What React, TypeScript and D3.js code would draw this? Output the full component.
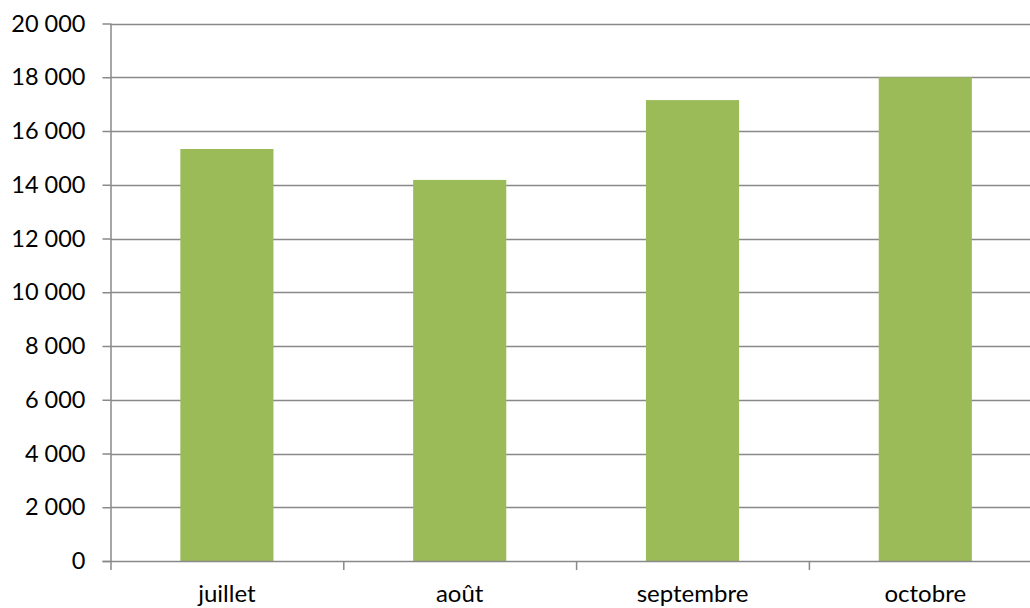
// @ts-nocheck
import React, { useEffect, useRef } from 'react'
import * as d3 from 'd3'

const months = ['juillet', 'août', 'septembre', 'octobre']
const values = [15330, 14180, 17150, 18000]
const yTicks = [0, 2000, 4000, 6000, 8000, 10000, 12000, 14000, 16000, 18000, 20000]

const fmt = (v: number) => d3.format(',')(v).replace(/,/g, ' ')

export default function App() {
    const ref = useRef<SVGSVGElement>(null)

    useEffect(() => {
        const width = 1030,
            height = 608
        const left = 110.5, right = 1041.7, top = 23.5, bottom = 561

        const x = d3.scaleBand(months, [left, right]).paddingInner(0.6).paddingOuter(0.3)
        const y = d3.scaleLinear([0, 20000], [bottom, top])

        const svg = d3.select(ref.current)
            .attr('width', width)
            .attr('height', height)
        svg.selectAll('*').remove()

        const font = 'Lato, "Open Sans", sans-serif'

        // gridlines
        svg.append('g')
            .selectAll('line')
            .data(yTicks.slice(1))
            .join('line')
            .attr('x1', left)
            .attr('x2', right)
            .attr('y1', d => Math.round(y(d)) + 0.5)
            .attr('y2', d => Math.round(y(d)) + 0.5)
            .attr('stroke', '#898989')
            .attr('stroke-width', 1.5)

        // bars
        svg.append('g')
            .selectAll('rect')
            .data(values)
            .join('rect')
            .attr('x', (d, i) => x(months[i]))
            .attr('width', x.bandwidth())
            .attr('y', d => y(d))
            .attr('height', d => bottom - y(d))
            .attr('fill', '#9bbb59')

        // y axis
        svg.append('g')
            .attr('transform', `translate(${left}, 0)`)
            .call(d3.axisLeft(y).tickValues(yTicks).tickFormat(fmt).tickSize(8).tickPadding(17))
            .call(g => g.select('.domain').attr('d', `M0.5,${top}V${bottom}`))
            .call(g => g.selectAll('line, path').attr('stroke', '#898989').attr('stroke-width', 1.5))
            .call(g => g.selectAll('text')
                .attr('font-family', font)
                .attr('font-size', 23.5)
                .attr('fill', '#000'))

        // x axis
        const bandStep = (right - left) / months.length
        svg.append('g')
            .attr('transform', `translate(0, ${bottom})`)
            .call(g => g.append('line')
                .attr('x1', left - 8).attr('x2', right)
                .attr('y1', 0.5).attr('y2', 0.5)
                .attr('stroke', '#898989').attr('stroke-width', 1.5))
            .call(g => g.selectAll('.tk')
                .data(d3.range(months.length + 1))
                .join('line')
                .attr('x1', i => left + i * bandStep + 0.5)
                .attr('x2', i => left + i * bandStep + 0.5)
                .attr('y1', 0).attr('y2', 9)
                .attr('stroke', '#898989').attr('stroke-width', 1.5))
            .call(g => g.selectAll('text')
                .data(months)
                .join('text')
                .attr('x', d => x(d) + x.bandwidth() / 2)
                .attr('y', 41)
                .attr('text-anchor', 'middle')
                .attr('font-family', font)
                .attr('font-size', 24)
                .attr('fill', '#000')
                .text(d => d))
    }, [])

    return <div style={{ position: 'absolute', left: 0, top: 0, background: '#fff' }}>
        <svg ref={ref} width='1030' height='608' style={{ display: 'block' }}></svg>
    </div>
}
